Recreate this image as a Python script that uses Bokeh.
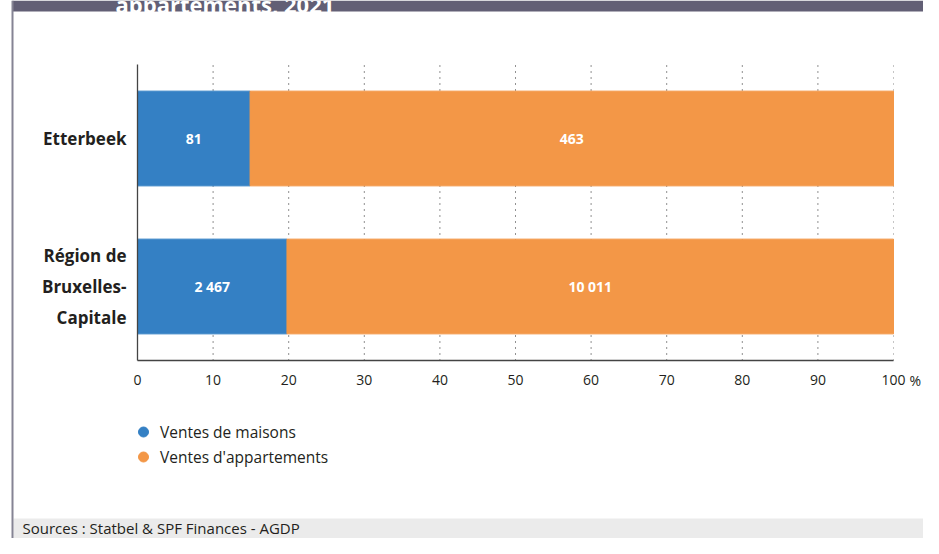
from bokeh.plotting import figure
from bokeh.models import (ColumnDataSource, Range1d, FixedTicker, LinearAxis,
                          Label, Legend, LegendItem, BoxAnnotation)
from bokeh.core.properties import value
from bokeh.embed import file_html
from bokeh.resources import INLINE

# ---- data ----
categories = ["Etterbeek", "Région de Bruxelles-Capitale"]
category_labels = ["Etterbeek", "Région de\nBruxelles-\nCapitale"]
house_sales = [81, 2467]
apartment_sales = [463, 10011]
series_names = ["Ventes de maisons", "Ventes d'appartements"]
x_ticks = [0, 10, 20, 30, 40, 50, 60, 70, 80, 90, 100]
title_text = "appartements, 2021"
source_text = "Sources : Statbel & SPF Finances - AGDP"

BLUE = "#3480C4"
ORANGE = "#F39747"
FONT = "Open Sans"
TXT = "#231F20"

totals = [h + a for h, a in zip(house_sales, apartment_sales)]
house_pct = [100.0 * h / t for h, t in zip(house_sales, totals)]
apt_pct = [100.0 * a / t for a, t in zip(apartment_sales, totals)]
n = len(categories)
cat_pos = [n - 0.5 - i for i in range(n)]   # top to bottom


def fmt(v):
    return f"{v:,}".replace(",", " ")


# ---- layout (canvas pixels) ----
W, H = 923, 538
AX_L, AX_R, AX_T, AX_B = 137, 893, 64, 360
pxx = (AX_R - AX_L) / 100.0
pxy = (AX_B - AX_T) / float(n)

p = figure(width=W, height=H,
           x_range=Range1d(-AX_L / pxx, 100 + (W - AX_R) / pxx),
           y_range=Range1d(-(H - AX_B) / pxy, n + AX_T / pxy),
           x_axis_location=None, y_axis_location=None,
           output_backend="svg", toolbar_location=None,
           min_border=0, outline_line_color=None)
p.grid.visible = False

# dotted grid lines
grid_x = x_ticks[1:]
grid_colors = ["#222222"] * (len(grid_x) - 1) + ["#8a8a8a"]
p.segment(x0=grid_x, x1=grid_x, y0=[0] * len(grid_x), y1=[n] * len(grid_x),
          line_color=grid_colors, line_width=1, line_dash="1 5")

# bars
src = ColumnDataSource(dict(y=cat_pos, houses=house_pct, apts=apt_pct))
p.hbar_stack(["houses", "apts"], y="y", height=0.64,
             color=[BLUE, ORANGE], source=src)

lab_x, lab_y, lab_t = [], [], []
for yy, hp, ap, hs, as_ in zip(cat_pos, house_pct, apt_pct, house_sales, apartment_sales):
    lab_x += [hp / 2, hp + ap / 2]
    lab_y += [yy, yy]
    lab_t += [fmt(hs), fmt(as_)]
lab_src = ColumnDataSource(dict(x=lab_x, y=lab_y, t=lab_t))
p.text(x="x", y="y", text="t", source=lab_src, text_color="white",
       text_font=value(FONT), text_font_style="bold", text_font_size="14px",
       text_align="center", text_baseline="middle")

# axes (placed inside the frame)
xaxis = LinearAxis(fixed_location=0, bounds=(0, 100),
                   ticker=FixedTicker(ticks=x_ticks))
xaxis.axis_line_color = "#444444"
xaxis.axis_line_width = 1.3
xaxis.major_tick_line_color = None
xaxis.minor_tick_line_color = None
xaxis.major_tick_out = 0
xaxis.major_tick_in = 0
xaxis.major_label_standoff = 14
xaxis.major_label_text_font = FONT
xaxis.major_label_text_font_size = "14px"
xaxis.major_label_text_color = TXT
p.add_layout(xaxis, "below")

yaxis = LinearAxis(fixed_location=0, bounds=(0, n),
                   ticker=FixedTicker(ticks=cat_pos),
                   major_label_overrides={pos: lab for pos, lab in zip(cat_pos, category_labels)})
yaxis.axis_line_color = "#444444"
yaxis.axis_line_width = 1.3
yaxis.major_tick_line_color = None
yaxis.minor_tick_line_color = None
yaxis.major_tick_out = 0
yaxis.major_tick_in = 0
yaxis.major_label_standoff = 11
yaxis.major_label_text_font = FONT
yaxis.major_label_text_font_style = "bold"
yaxis.major_label_text_font_size = "17px"
yaxis.major_label_text_color = TXT
yaxis.major_label_text_line_height = 1.35
p.add_layout(yaxis, "left")

# percent sign after 100
p.add_layout(Label(x=100, y=0, x_offset=16, y_offset=-20,
                   text="%", text_font=FONT, text_font_size="14px",
                   text_color=TXT, text_align="left", text_baseline="middle"))

# legend
r1 = p.scatter(x=[-50], y=[-50], size=11, color=BLUE, marker="circle")
r2 = p.scatter(x=[-50], y=[-50], size=11, color=ORANGE, marker="circle")
legend = Legend(items=[LegendItem(label=series_names[0], renderers=[r1]),
                       LegendItem(label=series_names[1], renderers=[r2])],
                location=(129, 69), orientation="vertical",
                glyph_width=28, glyph_height=25, label_height=24, spacing=0,
                padding=0, margin=0, border_line_color=None,
                background_fill_alpha=0, label_standoff=3,
                label_text_font=FONT, label_text_font_size="15.5px",
                label_text_color=TXT, label_text_baseline="middle")
p.add_layout(legend)


# frame decorations
def cbox(l, r, t, b, color):
    return BoxAnnotation(left=l, right=r, top=t, bottom=b,
                         left_units="canvas", right_units="canvas",
                         top_units="canvas", bottom_units="canvas",
                         fill_color=color, fill_alpha=1, line_color=None)


p.add_layout(cbox(12, W, 0, 11, "#625F75"))
p.add_layout(cbox(13, W, 518, H, "#EBEBEB"))
p.add_layout(cbox(11, 13, 0, H, "#858494"))

p.add_layout(Label(x=115, y=H - 3, x_units="screen", y_units="screen",
                   text=title_text, text_font=FONT, text_font_style="bold",
                   text_font_size="22px", text_color="white",
                   text_baseline="alphabetic"))
p.add_layout(Label(x=22, y=H - 527, x_units="screen", y_units="screen",
                   text=source_text, text_font=FONT, text_font_size="15px",
                   text_color=TXT, text_baseline="middle"))

open("out.html", "w").write(file_html(p, INLINE))
